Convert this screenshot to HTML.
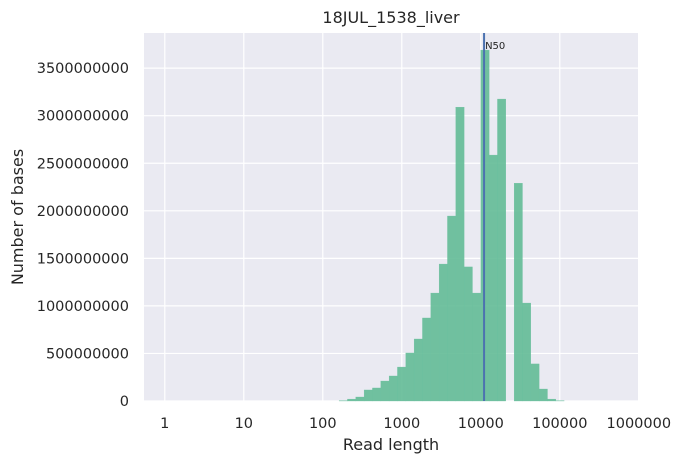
<!DOCTYPE html>
<html><head><meta charset="utf-8"><style>
body{margin:0;background:#fff;}
svg{display:block;font-family:"DejaVu Sans","Liberation Sans",sans-serif;}
</style></head><body>
<svg id="chart" width="682" height="463">
<rect x="144" y="33" width="494" height="368" fill="#eaeaf2"/>
<g id="grid"></g><g id="bars"></g><g id="ticks"></g>
<text x="391" y="23" text-anchor="middle" font-size="16" fill="#262626">18JUL_1538_liver</text>
<text x="391" y="450" text-anchor="middle" font-size="16" fill="#262626">Read length</text>
<text transform="translate(23,217) rotate(-90)" text-anchor="middle" font-size="16" fill="#262626">Number of bases</text>
</svg>
<script>
const binStartLog = 2.312;
const binStepLog = 0.1055;
const binValues = [0.003,0.02,0.042,0.116,0.137,0.21,0.263,0.357,0.505,0.652,0.873,1.135,1.44,1.945,3.09,1.41,1.135,3.69,2.586,3.175,0,2.29,1.03,0.39,0.126,0.02,0.003];
const yTicks = [0,500000000,1000000000,1500000000,2000000000,2500000000,3000000000,3500000000];
const xTicks = [1,10,100,1000,10000,100000,1000000];
const xTickLabels = ["1","10","100","1000","10000","100000","1000000"];
const n50Value = 11000;
const NS="http://www.w3.org/2000/svg";
function xs(v){return 164.8+79*Math.log10(v);}
function xl(l){return 164.8+79*l;}
function ys(v){return 401-v*95.1e-9;}
function mk(t,a,p){const e=document.createElementNS(NS,t);for(const k in a)e.setAttribute(k,a[k]);p.appendChild(e);return e;}
const grid=document.getElementById('grid'),bars=document.getElementById('bars'),ticks=document.getElementById('ticks');
yTicks.forEach(v=>{
 const l=mk('line',{x1:144,x2:638,y1:ys(v),y2:ys(v),stroke:'#fff','stroke-width':1.2},grid);
 
 
 const t=mk('text',{x:129,y:ys(v)+5,'text-anchor':'end','font-size':14.5,fill:'#262626'},ticks);
 t.textContent=String(v);
 
 
});
xTicks.forEach((v,i)=>{
 if(xs(v)<=639){
 const l=mk('line',{x1:xs(v),x2:xs(v),y1:33,y2:401,stroke:'#fff','stroke-width':1.2},grid);
 
 }
 const t=mk('text',{x:xs(v),y:428,'text-anchor':'middle','font-size':14.5,fill:'#262626'},ticks);
 t.textContent=xTickLabels[i];
 
 
});
binValues.forEach((v,i)=>{
 if(v<=0)return;
 const x0=xl(binStartLog+(i-1)*binStepLog), x1=xl(binStartLog+i*binStepLog);
 const y=ys(v*1e9);
 const r=mk('rect',{x:x0,y:y,width:x1-x0,height:401-y,fill:'#5fb993','fill-opacity':0.88,stroke:'#6cc0a0','stroke-width':0.3},bars);
 
 
});
const nl=mk('line',{x1:xs(n50Value),x2:xs(n50Value),y1:33,y2:401,stroke:'#4c72b0','stroke-width':2},bars);


const nt=mk('text',{x:xs(n50Value)+1,y:49,'font-size':10,fill:'#262626'},bars);
nt.textContent='N50';


</script>
</body></html>
